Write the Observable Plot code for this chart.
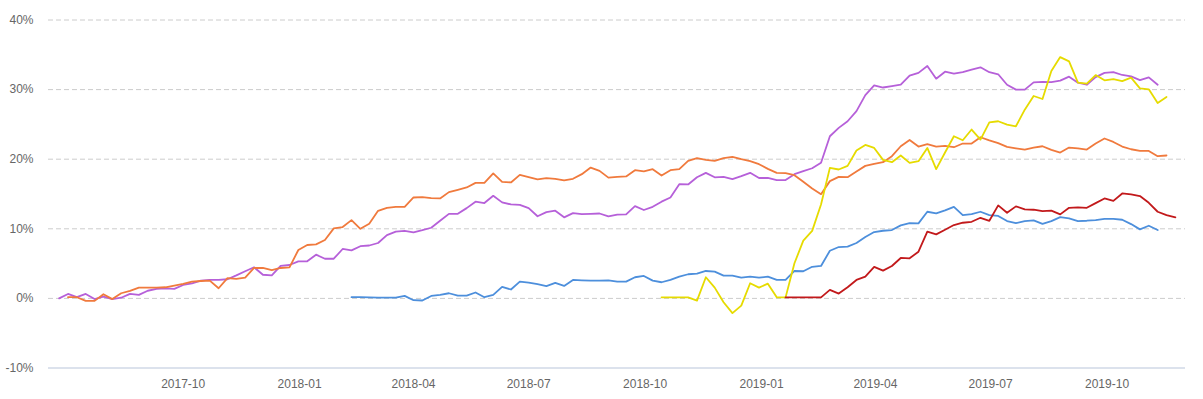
<!DOCTYPE html>
<html>
<head>
<meta charset="utf-8">
<script src="https://cdn.jsdelivr.net/npm/d3@7"></script>
<script src="https://cdn.jsdelivr.net/npm/@observablehq/plot@0.6"></script>
<style>
  html, body { margin: 0; padding: 0; background: #fff; }
  #chart svg { display: block; }
</style>
</head>
<body>
<div id="chart"></div>
<script>
// Weekly observations; index 0 = first week of the chart
const firstWeek = "2017-06-25";

// Series: name, first week index, colour, weekly cumulative return (%)
const seriesNames = ["Series A", "Series B", "Series C", "Series D", "Series E"];
const seriesStart = [0, 1, 33, 68, 82];
const seriesColors = ["#b660d9", "#f07a3d", "#4d8fdc", "#e6db00", "#c2191b"];

const seriesAValues = [0, 0.64, 0.17, 0.64, -0.1, 0.26, -0.1, 0.1, 0.64, 0.5,
  1.1, 1.36, 1.45, 1.36, 1.93, 2.17, 2.55, 2.65, 2.65, 2.75,
  3.3, 3.9, 4.47, 3.4, 3.3, 4.66, 4.8, 5.33, 5.33, 6.28,
  5.7, 5.7, 7.1, 6.9, 7.5, 7.6, 7.96, 9.1, 9.6, 9.7,
  9.5, 9.8, 10.15, 11.15, 12.15, 12.15, 12.97, 13.9, 13.7, 14.74,
  13.8, 13.5, 13.45, 12.97, 11.8, 12.4, 12.6, 11.65, 12.26, 12.1,
  12.15, 12.2, 11.8, 12.05, 12.07, 13.26, 12.7, 13.16, 13.9, 14.5,
  16.4, 16.37, 17.4, 18.04, 17.4, 17.46, 17.13, 17.56, 18.04, 17.3,
  17.3, 17.0, 17.0, 17.85, 18.3, 18.7, 19.5, 23.3, 24.5, 25.45,
  26.9, 29.2, 30.6, 30.3, 30.5, 30.7, 32.0, 32.4, 33.4, 31.57,
  32.57, 32.29, 32.5, 32.86, 33.2, 32.5, 32.2, 30.7, 30.0, 30.0,
  31.04, 31.1, 31.08, 31.28, 31.86, 31.0, 30.7, 31.8, 32.4, 32.5,
  32.1, 31.9, 31.37, 31.76, 30.7];

const seriesBValues = [0.17, 0.17, -0.36, -0.36, 0.6, -0.1, 0.74, 1.07, 1.55,
  1.55, 1.55, 1.6, 1.84, 2.08, 2.4, 2.5, 2.55, 1.46, 2.9,
  2.8, 2.98, 4.4, 4.37, 4.08, 4.37, 4.47, 6.95, 7.67, 7.77,
  8.39, 10.06, 10.25, 11.25, 10.0, 10.72, 12.59, 13.0, 13.16, 13.16,
  14.5, 14.55, 14.42, 14.36, 15.27, 15.6, 15.94, 16.6, 16.6, 17.95,
  16.75, 16.66, 17.75, 17.42, 17.09, 17.28, 17.18, 16.95, 17.18, 17.85,
  18.8, 18.32, 17.35, 17.46, 17.52, 18.42, 18.24, 18.57, 17.66, 18.42,
  18.57, 19.76, 20.14, 19.9, 19.76, 20.14, 20.33, 20.0, 19.71, 19.28,
  18.61, 18.04, 17.99, 17.7, 16.75, 15.8, 14.98, 16.85, 17.46, 17.42,
  18.24, 19.04, 19.33, 19.57, 20.43, 21.86, 22.77, 21.82, 22.15, 21.82,
  21.9, 21.72, 22.25, 22.25, 23.15, 22.7, 22.3, 21.76, 21.57, 21.39,
  21.67, 21.86, 21.33, 20.96, 21.67, 21.57, 21.39, 22.25, 22.97, 22.48,
  21.82, 21.43, 21.19, 21.19, 20.43, 20.53];

const seriesCValues = [0.17, 0.17, 0.15, 0.1, 0.1, 0.1, 0.36,
  -0.26, -0.3, 0.35, 0.5, 0.74, 0.4, 0.4, 0.85, 0.17, 0.5,
  1.65, 1.28, 2.41, 2.27, 2.05, 1.77, 2.22, 1.79, 2.65, 2.6,
  2.55, 2.55, 2.6, 2.41, 2.41, 3.04, 3.23, 2.55, 2.32, 2.65,
  3.13, 3.47, 3.56, 3.94, 3.85, 3.27, 3.27, 2.98, 3.13, 2.98,
  3.13, 2.65, 2.65, 3.94, 3.9, 4.54, 4.66, 6.85, 7.38, 7.43,
  7.96, 8.82, 9.53, 9.72, 9.82, 10.49, 10.82, 10.78, 12.45, 12.21,
  12.64, 13.16, 11.97, 12.11, 12.45, 11.97, 11.85, 11.11, 10.82, 11.11,
  11.21, 10.72, 11.11, 11.68, 11.5, 11.11, 11.16, 11.25, 11.44, 11.44,
  11.3, 10.68, 9.92, 10.44, 9.82];

const seriesDValues = [0.15, 0.15, 0.15, 0.15, -0.31, 3.04, 1.55, -0.55, -2.12, -1.03,
  2.18, 1.55, 2.12, 0.15, 0.15, 5.05, 8.29, 9.7, 13.5, 18.75,
  18.52, 19.04, 21.24, 22.05, 21.62, 19.9, 19.57, 20.53, 19.47, 19.71,
  21.62, 18.57, 20.96, 23.3, 22.72, 24.26, 22.82, 25.3, 25.45, 24.97,
  24.73, 27.12, 29.08, 28.65, 32.66, 34.67, 34.05, 31.0, 30.85, 32.09,
  31.33, 31.51, 31.23, 31.71, 30.18, 30.04, 28.07, 28.93];

const seriesEValues = [0.15, 0.15, 0.15, 0.15, 0.15, 1.22, 0.69, 1.6, 2.65, 3.13,
  4.52, 3.99, 4.66, 5.81, 5.76, 6.71, 9.58, 9.2, 9.86, 10.54,
  10.87, 11.01, 11.58, 11.15, 13.36, 12.3, 13.22, 12.79, 12.74, 12.54,
  12.6, 12.07, 13.02, 13.07, 13.02, 13.69, 14.36, 14.02, 15.08, 14.94,
  14.7, 13.74, 12.45, 11.97, 11.64];

const yTicks = [-10, 0, 10, 20, 30, 40];
const gridTicks = [0, 10, 20, 30, 40];
const xTickLabels = ["2017-10", "2018-01", "2018-04", "2018-07", "2018-10",
  "2019-01", "2019-04", "2019-07", "2019-10"];
const xDomain = ["2017-06-16T14:00:00Z", "2019-12-02T00:00:00Z"];

const allValues = [seriesAValues, seriesBValues, seriesCValues, seriesDValues, seriesEValues];
const t0 = new Date(firstWeek + "T00:00:00Z");
const rows = [];
allValues.forEach((vals, s) => {
  vals.forEach((v, k) => {
    rows.push({
      series: seriesNames[s],
      date: d3.utcDay.offset(t0, 7 * (seriesStart[s] + k)),
      value: v
    });
  });
});
const xTicks = xTickLabels.map(s => new Date(s + "-01T00:00:00Z"));

const chart = Plot.plot({
  width: 1203,
  height: 399,
  marginLeft: 48,
  marginRight: 18,
  marginTop: 19.5,
  marginBottom: 31.5,
  style: {
    fontFamily: "'Liberation Sans', Arial, Helvetica, sans-serif",
    fontSize: "12px",
    color: "#666",
    background: "#fff"
  },
  x: { type: "utc", domain: xDomain.map(d => new Date(d)) },
  y: { domain: [-10, 40] },
  color: { type: "ordinal", domain: seriesNames, range: seriesColors },
  marks: [
    Plot.ruleY(gridTicks, { stroke: "#cccccc", strokeDasharray: "5,3", strokeWidth: 1 }),
    Plot.ruleY([-10], { stroke: "#b9c5da", strokeWidth: 1 }),
    Plot.axisY({ ticks: yTicks, tickFormat: d => d + "%", tickSize: 0, tickPadding: 15, label: null }),
    Plot.axisX({ ticks: xTicks, tickFormat: d3.utcFormat("%Y-%m"), tickSize: 0, tickPadding: 11, label: null }),
    Plot.line(rows, { x: "date", y: "value", z: "series", stroke: "series", strokeWidth: 1.8, strokeLinejoin: "round" })
  ]
});
document.getElementById("chart").appendChild(chart);
</script>
</body>
</html>
